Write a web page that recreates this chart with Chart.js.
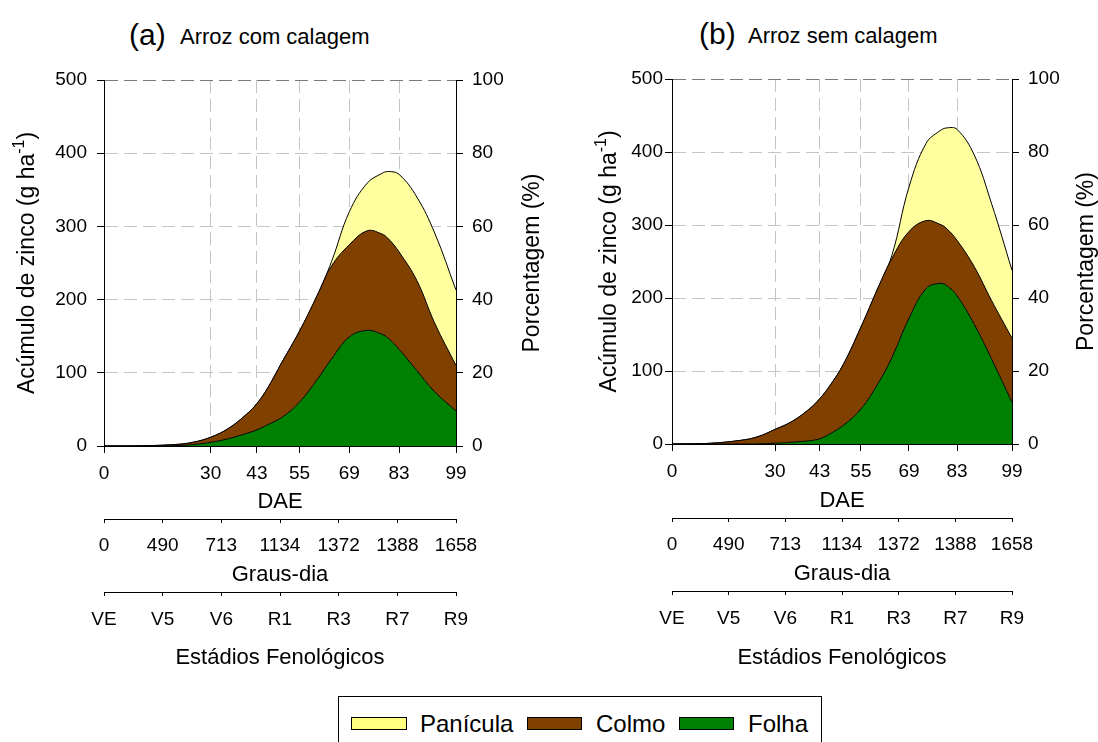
<!DOCTYPE html>
<html>
<head>
<meta charset="utf-8">
<script src="https://cdn.jsdelivr.net/npm/chart.js@4.4.1/dist/chart.umd.min.js"></script>
<style>
  html, body { margin: 0; padding: 0; background: #fff; width: 1098px; height: 742px; overflow: hidden; }
  body { position: relative; font-family: 'Liberation Sans', Arial, Helvetica, sans-serif; color: #000; }
  canvas { position: absolute; top: 0; }
  #chartA { left: 0; }
  #chartB { left: 560px; }
  .ttl { position: absolute; white-space: nowrap; line-height: 1; }
  #legend { position: absolute; left: 338px; top: 696px; width: 484px; height: 60px; border: 1px solid #000; box-sizing: border-box; }
  .sw { position: absolute; top: 20px; height: 13px; border: 1px solid #000; box-sizing: border-box; }
  .lt { position: absolute; top: 15px; font-size: 24px; line-height: 1; white-space: nowrap; }
</style>
</head>
<body>
<div class="ttl" style="left:129px; top:20px; font-size:30px;">(a)</div>
<div class="ttl" style="left:180px; top:26px; font-size:22px;">Arroz com calagem</div>
<div class="ttl" style="left:699px; top:19px; font-size:30px;">(b)</div>
<div class="ttl" style="left:748px; top:25px; font-size:22px;">Arroz sem calagem</div>

<canvas id="chartA" width="560" height="690"></canvas>
<canvas id="chartB" width="540" height="690"></canvas>

<div id="legend">
  <div class="sw" style="left:12px; width:56px; background:#ffff80;"></div>
  <div class="lt" style="left:81px;">Panícula</div>
  <div class="sw" style="left:188px; width:55px; background:#804000;"></div>
  <div class="lt" style="left:257px;">Colmo</div>
  <div class="sw" style="left:340px; width:55px; background:#008000;"></div>
  <div class="lt" style="left:409px;">Folha</div>
</div>

<script>
// Days after emergence (DAE) at which accumulation is given
const dae = [0, 10, 20, 25, 30, 35, 40, 43, 46, 50, 55, 60, 64, 69, 74, 78, 80, 83, 88, 93, 99];

// Tick labels of the three stacked x axes
const daeTicks = [0, 30, 43, 55, 69, 83, 99];
const grausDia = ['0', '490', '713', '1134', '1372', '1388', '1658'];
const estadios = ['VE', 'V5', 'V6', 'R1', 'R3', 'R7', 'R9'];

// (a) Arroz com calagem — zinc accumulated per organ (g ha-1)
const folhaA    = [0, 0, 0.5, 2, 5, 10, 17, 22, 29, 39, 60, 91, 119, 149, 158, 153, 147, 132, 103, 74, 48];
const colmoA    = [0, 0.3, 1.5, 3, 7, 14, 26, 36, 50, 75, 97, 115, 127, 126, 136, 137, 136, 133, 123, 94, 62];
const paniculaA = [0, 0, 0, 0, 0, 0, 0, 0, 0, 0, 0, 0, 6, 45, 65, 82, 92, 106, 114, 123, 103];

// (b) Arroz sem calagem
const folhaB    = [0, 0, 0, 0.3, 1, 2.5, 4.5, 7, 14, 26, 48, 83, 118, 172, 213, 220, 217, 203, 164, 117, 57];
const colmoB    = [0, 0.7, 5, 9.7, 19, 28.5, 43.5, 55, 66, 84, 112, 131, 136, 119, 93, 81, 78, 76, 79, 80, 88];
const paniculaB = [0, 0, 0, 0, 0, 0, 0, 0, 0, 0, 0, 0, 4, 61, 106, 128, 138, 152, 153, 133, 93];

// Axis titles
const titleDAE = 'DAE';
const titleGraus = 'Graus-dia';
const titleEstadios = 'Estádios Fenológicos';
const titleLeft = 'Acúmulo de zinco (g ha';
const titleLeftSup = '-1';
const titleRight = 'Porcentagem (%)';

const FONT = "'Liberation Sans', Arial, Helvetica, sans-serif";
const tickFont = { family: FONT, size: 19 };
const titleFont = { family: FONT, size: 22 };
const YELLOW = '#ffffa0';
const BROWN = '#804000';
const GREEN = '#008000';
const GRID = '#c4c4c4';
const GRID_TOP = '#7a7a7a';
const NONE = 'rgba(0,0,0,0)';

// Rotated y-axis titles (both read bottom-to-top; left one carries a superscript)
const axisTitles = {
  id: 'axisTitles',
  afterDraw(chart, args, opts) {
    const { ctx, chartArea } = chart;
    const cy = (chartArea.top + chartArea.bottom) / 2;
    ctx.save();
    ctx.fillStyle = '#000';
    ctx.textBaseline = 'middle';
    ctx.textAlign = 'left';

    ctx.save();
    ctx.translate(opts.leftX, cy);
    ctx.rotate(-Math.PI / 2);
    ctx.font = `23px ${FONT}`;
    const w1 = ctx.measureText(titleLeft).width;
    const w3 = ctx.measureText(')').width;
    ctx.font = `16px ${FONT}`;
    const w2 = ctx.measureText(titleLeftSup).width;
    let x = -(w1 + w2 + w3) / 2;
    ctx.font = `23px ${FONT}`;
    ctx.fillText(titleLeft, x, 0); x += w1;
    ctx.font = `16px ${FONT}`;
    ctx.fillText(titleLeftSup, x, -8); x += w2;
    ctx.font = `23px ${FONT}`;
    ctx.fillText(')', x, 0);
    ctx.restore();

    ctx.save();
    ctx.translate(opts.rightX, cy);
    ctx.rotate(-Math.PI / 2);
    ctx.font = `23px ${FONT}`;
    ctx.textAlign = 'center';
    ctx.fillText(titleRight, 0, 0);
    ctx.restore();

    ctx.restore();
  }
};

function extraAxis(labels, weight, g) {
  return {
    type: 'linear', position: 'bottom', weight: weight, min: 0, max: labels.length - 1,
    afterBuildTicks: s => { s.ticks = labels.map((_, i) => ({ value: i })); },
    afterFit: s => { s.height = g.h; },
    ticks: { autoSkip: false, maxRotation: 0, padding: g.p, color: '#000', font: tickFont,
             callback: v => labels[v] },
    grid: { drawOnChartArea: false, drawTicks: true, tickLength: 4, tickColor: '#000', tickWidth: 1 },
    border: { display: true, color: '#000', width: 1 },
    title: { display: true, text: g.title, color: '#000', font: titleFont, padding: { top: 0, bottom: g.t } }
  };
}

function buildPanel(id, folha, colmo, panicula, g) {
  const pts = arr => dae.map((d, i) => ({ x: d, y: arr[i] }));
  const layer = (label, arr, color, fill) => ({
    label, data: pts(arr), xAxisID: 'x', yAxisID: 'y',
    backgroundColor: color, borderColor: '#000', borderWidth: 1,
    fill, pointRadius: 0, pointHoverRadius: 0, tension: 0.4
  });
  return new Chart(document.getElementById(id), {
    type: 'line',
    data: {
      datasets: [
        layer('Folha', folha, GREEN, 'origin'),
        layer('Colmo', colmo, BROWN, '-1'),
        layer('Panícula', panicula, YELLOW, '-1')
      ]
    },
    plugins: [axisTitles],
    options: {
      responsive: false, animation: false, events: [],
      layout: { padding: { top: g.top, left: 0, right: 0, bottom: 0 } },
      plugins: {
        legend: { display: false }, tooltip: { enabled: false },
        axisTitles: { leftX: g.leftTitleX, rightX: g.rightTitleX }
      },
      scales: {
        x: {
          type: 'linear', position: 'bottom', weight: 0, min: 0, max: 99,
          afterBuildTicks: s => { s.ticks = daeTicks.map(v => ({ value: v })); },
          afterFit: s => { s.height = g.h1; },
          ticks: { autoSkip: false, maxRotation: 0, padding: g.p1, color: '#000', font: tickFont },
          grid: {
            color: c => (c.tick && (c.tick.value === 0 || c.tick.value === 99)) ? NONE : GRID,
            lineWidth: 1, drawTicks: true, tickLength: 7, tickColor: '#000', tickWidth: 1
          },
          border: { display: true, color: '#000', width: 1, dash: [13, 6] },
          title: { display: true, text: titleDAE, color: '#000', font: titleFont, padding: { top: 0, bottom: g.t1 } }
        },
        g: extraAxis(grausDia, 1, { h: g.h2, p: g.p2, t: g.t2, title: titleGraus }),
        s: extraAxis(estadios, 2, { h: g.h3, p: g.p3, t: g.t3, title: titleEstadios }),
        y: {
          type: 'linear', position: 'left', stacked: true, min: 0, max: 500,
          afterFit: s => { s.width = g.lw; },
          ticks: { stepSize: 100, padding: g.lp, color: '#000', font: tickFont },
          grid: {
            color: c => {
              if (!c.tick) return GRID;
              if (c.tick.value === 0) return NONE;
              return c.tick.value === 500 ? GRID_TOP : GRID;
            },
            lineWidth: 1, drawTicks: true, tickLength: 7, tickColor: '#000', tickWidth: 1
          },
          border: { display: true, color: '#000', width: 1, dash: [13, 6] },
          title: { display: false }
        },
        y1: {
          type: 'linear', position: 'right', min: 0, max: 100,
          afterFit: s => { s.width = g.rw; },
          ticks: { stepSize: 20, padding: 9, color: '#000', font: tickFont },
          grid: { drawOnChartArea: false, drawTicks: true, tickLength: 7, tickColor: '#000', tickWidth: 1 },
          border: { display: true, color: '#000', width: 1 },
          title: { display: false }
        }
      }
    }
  });
}

buildPanel('chartA', folhaA, colmoA, paniculaA, {
  top: 80, lw: 104, rw: 104, lp: 10,
  h1: 73, p1: 9, t1: 4,
  h2: 73, p2: 11.5, t2: 3.5,
  h3: 98, p3: 12.5, t3: 18.5,
  leftTitleX: 28, rightTitleX: 533
});

buildPanel('chartB', folhaB, colmoB, paniculaB, {
  top: 79, lw: 112, rw: 88, lp: 2,
  h1: 74, p1: 9, t1: 4,
  h2: 73, p2: 11.5, t2: 4,
  h3: 99, p3: 12, t3: 19,
  leftTitleX: 50, rightTitleX: 527
});
</script>
</body>
</html>
